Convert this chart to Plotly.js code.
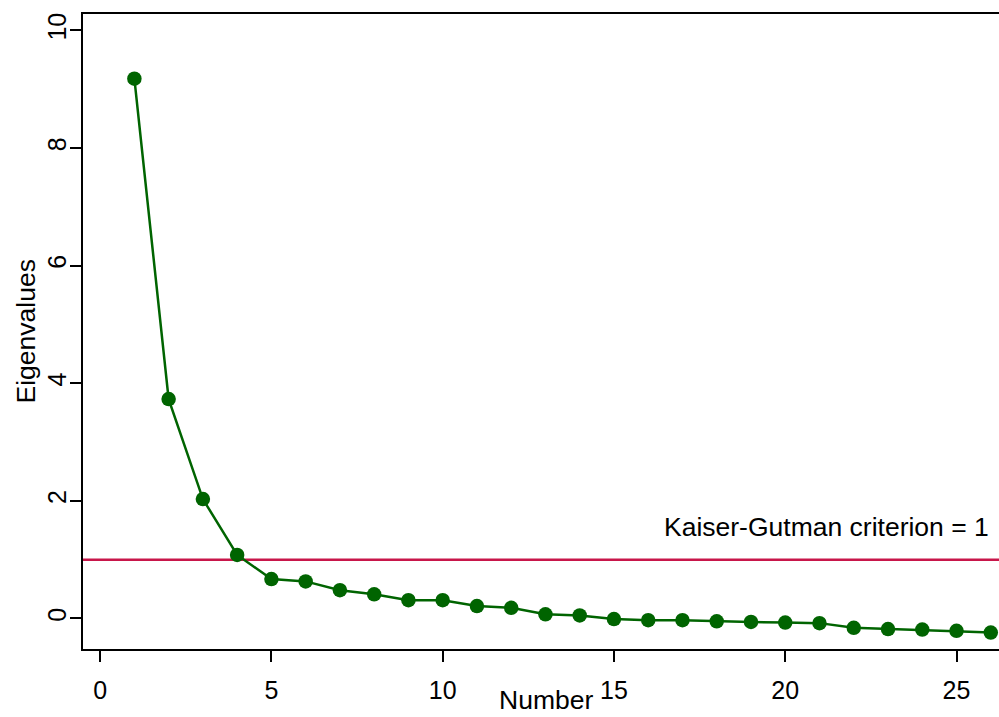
<!DOCTYPE html>
<html>
<head>
<meta charset="utf-8">
<script src="https://cdn.plot.ly/plotly-3.0.1.min.js"></script>
<style>html,body{margin:0;padding:0;background:#fff;}#chart{width:999px;height:717px;}</style>
</head>
<body>
<div id="chart"></div>
<script>
const numbers = [1,2,3,4,5,6,7,8,9,10,11,12,13,14,15,16,17,18,19,20,21,22,23,24,25,26];
const eigenvalues = [9.18,3.73,2.03,1.08,0.67,0.63,0.48,0.41,0.31,0.31,0.21,0.18,0.07,0.05,-0.01,-0.03,-0.03,-0.05,-0.06,-0.07,-0.08,-0.16,-0.18,-0.19,-0.21,-0.24];
const criterion = 1;
const criterionLabel = "Kaiser-Gutman criterion = 1";
const xTitle = "Number";
const yTitle = "Eigenvalues";
const xTicks = [0,5,10,15,20,25];
const yTicks = [0,2,4,6,8,10];

const font = "Liberation Sans, Arial, Helvetica, sans-serif";

const data = [{
  x: numbers, y: eigenvalues, type: 'scatter', mode: 'lines+markers',
  line: {color: '#006400', width: 2.5},
  marker: {color: '#006400', size: 14.5},
  cliponaxis: false,
  hoverinfo: 'skip'
}];

const layout = {
  width: 999, height: 717,
  margin: {l: 83, r: 0, t: 14, b: 68, pad: 0},
  paper_bgcolor: '#fff', plot_bgcolor: '#fff',
  showlegend: false,
  font: {family: font, color: '#000', size: 25},
  xaxis: {
    range: [-0.5, 26.24], tickvals: xTicks, ticktext: xTicks.map(String),
    showgrid: false, zeroline: false, showline: true, linecolor: '#000', linewidth: 2,
    mirror: true, ticks: 'outside', ticklen: 11, tickwidth: 2, tickcolor: '#000',
    tickfont: {size: 25, family: font}, ticklabelstandoff: 7,
    automargin: false
  },
  yaxis: {
    range: [-0.52, 10.28], tickvals: yTicks, ticktext: yTicks.map(String),
    showgrid: false, zeroline: false, showline: true, linecolor: '#000', linewidth: 2,
    ticks: 'outside', ticklen: 11, tickwidth: 2, tickcolor: '#000',
    tickangle: -90, ticklabelstandoff: -6,
    tickfont: {size: 25, family: font},
    automargin: false
  },
  shapes: [{
    type: 'line', xref: 'paper', x0: 0, x1: 1, yref: 'y', y0: criterion, y1: criterion,
    line: {color: '#c8164a', width: 2.5}, layer: 'below'
  }],
  annotations: [{
    text: criterionLabel, xref: 'x', x: 26.0, xanchor: 'right',
    yref: 'y', y: criterion, yanchor: 'middle', yshift: 33,
    showarrow: false, font: {size: 26.5, family: font, color: '#000'}
  }, {
    text: xTitle, xref: 'paper', x: 0.5055, xanchor: 'center',
    yref: 'paper', y: 0, yanchor: 'bottom', yshift: -68,
    showarrow: false, font: {size: 26.5, family: font, color: '#000'}
  }, {
    text: yTitle, xref: 'paper', x: 0, xanchor: 'center', xshift: -58,
    yref: 'paper', y: 0.5, yanchor: 'middle', textangle: -90,
    showarrow: false, font: {size: 26.5, family: font, color: '#000'}
  }]
};

Plotly.newPlot('chart', data, layout, {displayModeBar: false, staticPlot: true});
</script>
</body>
</html>
